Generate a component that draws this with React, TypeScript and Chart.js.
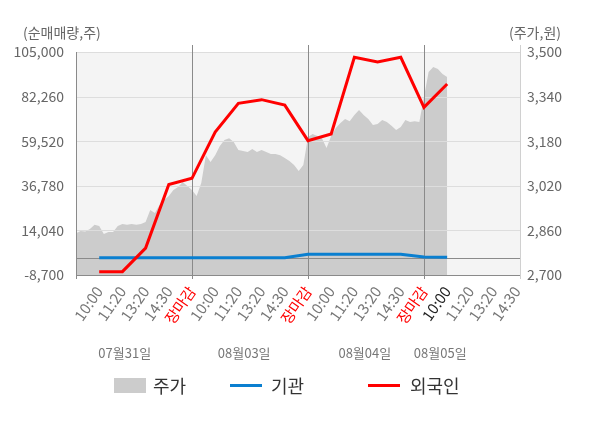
import { useEffect, useRef } from 'react';
import Chart from 'chart.js/auto';

// x-axis tick labels (one per slot, 4 trading days)
const TIME_LABELS = [
  '10:00', '11:20', '13:20', '14:30', '장마감',
  '10:00', '11:20', '13:20', '14:30', '장마감',
  '10:00', '11:20', '13:20', '14:30', '장마감',
  '10:00', '11:20', '13:20', '14:30',
];
const DATE_LABELS = ['07월31일', '08월03일', '08월04일', '08월05일'];

const LEFT_TICKS = [-8700, 14040, 36780, 59520, 82260, 105000];
const RIGHT_TICKS = [2700, 2860, 3020, 3180, 3340, 3500];

// net buying (shares), one value per slot 1..16
const FOREIGN = [
  -7000, -7000, 5000, 37400, 40600,
  64200, 78800, 80700, 77900, 59800,
  63200, 102300, 99900, 102300, 76800,
  88700,
];
const INSTITUTION = [
  100, 100, 100, 100, 100,
  100, 100, 100, 100, 1900,
  1900, 1900, 1900, 1900, 500,
  300,
];

// stock price sampled every PRICE_STEP slots
const PRICE_STEP = 0.2;
const PRICE = [
  2850, 2858, 2856, 2865, 2880, 2876, 2847, 2854, 2854, 2876,
  2883, 2880, 2883, 2880, 2883, 2890, 2933, 2922, 2951, 2969,
  2983, 3005, 3016, 3034, 3019, 3005, 2983, 3030, 3130, 3105,
  3130, 3163, 3184, 3191, 3177, 3148, 3145, 3141, 3152, 3141,
  3148, 3141, 3134, 3134, 3130, 3120, 3109, 3095, 3073, 3095,
  3195, 3206, 3199, 3191, 3156, 3199, 3227, 3245, 3260, 3252,
  3274, 3292, 3274, 3260, 3238, 3242, 3256, 3249, 3235, 3220,
  3231, 3256, 3249, 3252, 3249, 3339, 3428, 3446, 3439, 3421,
  3410,
];

const FONT = '"Noto Sans CJK KR", "Noto Sans", sans-serif';
const DAY_BREAKS = [5, 10, 15];
const DATE_X = [2.1, 7.25, 12.45, 15.7];

const framePlugin = {
  id: 'frame',
  beforeDatasetsDraw(chart: any) {
    const { ctx, chartArea: a } = chart;
    ctx.save();
    ctx.fillStyle = '#f4f4f4';
    ctx.fillRect(a.left, a.top, a.right - a.left, a.bottom - a.top);
    ctx.restore();
  },
  afterDatasetDraw(chart: any, args: any) {
    if (args.index !== 0) return;
    const { ctx, chartArea: a, scales } = chart;
    const ys = scales.y;
    const xs = scales.x;
    const line = (x1: number, y1: number, x2: number, y2: number, c: string) => {
      ctx.strokeStyle = c;
      ctx.beginPath();
      ctx.moveTo(x1, y1);
      ctx.lineTo(x2, y2);
      ctx.stroke();
    };
    ctx.save();
    ctx.lineWidth = 1;
    LEFT_TICKS.slice(1).forEach((v) => {
      const y = Math.round(ys.getPixelForValue(v)) + 0.5;
      line(a.left, y, a.right, y, '#dddddd');
    });
    const z = Math.round(ys.getPixelForValue(0)) + 0.5;
    line(a.left, z, a.right, z, '#8a8a8a');
    DAY_BREAKS.forEach((d) => {
      const x = Math.round(xs.getPixelForValue(d)) + 0.5;
      line(x, a.top - 7, x, a.bottom + 4, '#8a8a8a');
    });
    const l = Math.round(a.left) + 0.5;
    line(l, a.top, l, a.bottom + 4, '#8a8a8a');
    const r = Math.round(a.right) + 0.5;
    line(r, a.top - 7, r, a.bottom + 4, '#d0d0d0');
    const b = Math.round(a.bottom) + 0.5;
    line(a.left, b, a.right, b, '#8a8a8a');
    ctx.restore();
  },
  afterDraw(chart: any) {
    const { ctx, scales } = chart;
    ctx.save();
    ctx.textBaseline = 'middle';
    ctx.fillStyle = '#666';
    ctx.font = `14px ${FONT}`;
    ctx.textAlign = 'left';
    ctx.fillText('(순매매량,주)', 23, 33);
    ctx.fillText('(주가,원)', 509, 33);

    ctx.font = `13px ${FONT}`;
    ctx.fillStyle = '#777';
    ctx.textAlign = 'center';
    DATE_LABELS.forEach((t, i) => {
      ctx.fillText(t, scales.x.getPixelForValue(DATE_X[i]), 353);
    });

    // legend
    ctx.textAlign = 'left';
    ctx.font = `18px ${FONT}`;
    ctx.fillStyle = '#cccccc';
    ctx.fillRect(114, 378, 32, 15);
    ctx.fillStyle = '#0a7fd0';
    ctx.fillRect(230, 384, 32, 3);
    ctx.fillStyle = '#ff0000';
    ctx.fillRect(368, 384, 32, 3);
    ctx.fillStyle = '#333';
    ctx.fillText('주가', 153, 386);
    ctx.fillText('기관', 271, 386);
    ctx.fillText('외국인', 410, 386);
    ctx.restore();
  },
};

export default function App() {
  const canvasRef = useRef<HTMLCanvasElement>(null);
  const chartRef = useRef<Chart | null>(null);

  useEffect(() => {
    if (!canvasRef.current) return;
    if (chartRef.current) chartRef.current.destroy();

    chartRef.current = new Chart(canvasRef.current, {
      type: 'line',
      data: {
        datasets: [
          {
            label: '주가',
            data: PRICE.map((p, k) => ({ x: k * PRICE_STEP, y: p })),
            yAxisID: 'y1',
            fill: 'start',
            backgroundColor: '#cccccc',
            borderWidth: 0,
            pointRadius: 0,
            order: 3,
          },
          {
            label: '기관',
            data: INSTITUTION.map((v, i) => ({ x: i + 1, y: v })),
            yAxisID: 'y',
            borderColor: '#0a7fd0',
            borderWidth: 3,
            pointRadius: 0,
            fill: false,
            order: 2,
          },
          {
            label: '외국인',
            data: FOREIGN.map((v, i) => ({ x: i + 1, y: v })),
            yAxisID: 'y',
            borderColor: '#ff0000',
            borderWidth: 3,
            pointRadius: 0,
            fill: false,
            order: 1,
          },
        ],
      },
      options: {
        responsive: false,
        animation: false,
        layout: { padding: { top: 52, left: 0, right: 0, bottom: 0 } },
        plugins: {
          legend: { display: false },
          tooltip: { enabled: false },
        },
        scales: {
          x: {
            type: 'linear',
            min: 0,
            max: 19.14,
            afterBuildTicks: (s: any) => {
              s.ticks = TIME_LABELS.map((_, i) => ({ value: i + 1 }));
            },
            afterFit: (s: any) => {
              s.height = 153;
            },
            grid: { display: false, drawTicks: false },
            border: { display: false },
            ticks: {
              autoSkip: false,
              minRotation: 55,
              maxRotation: 55,
              padding: 8,
              font: { size: 15, family: FONT },
              color: (c: any) =>
                TIME_LABELS[c.index] === '장마감' ? '#ff0000' : c.index === 15 ? '#222' : '#777',
              callback: (_v: any, i: number) => TIME_LABELS[i],
            },
          },
          y: {
            position: 'left',
            min: -8700,
            max: 105000,
            afterBuildTicks: (s: any) => {
              s.ticks = LEFT_TICKS.map((v) => ({ value: v }));
            },
            afterFit: (s: any) => {
              s.width = 76;
            },
            grid: { display: false, drawTicks: false },
            border: { display: false },
            ticks: {
              padding: 12,
              color: '#666',
              font: { size: 14, family: FONT },
              callback: (v: any) => Number(v).toLocaleString('en-US'),
            },
          },
          y1: {
            position: 'right',
            min: 2700,
            max: 3500,
            afterBuildTicks: (s: any) => {
              s.ticks = RIGHT_TICKS.map((v) => ({ value: v }));
            },
            afterFit: (s: any) => {
              s.width = 80;
            },
            grid: { display: false, drawTicks: false },
            border: { display: false },
            ticks: {
              padding: 7,
              color: '#666',
              font: { size: 14, family: FONT },
              callback: (v: any) => Number(v).toLocaleString('en-US'),
            },
          },
        },
      },
      plugins: [framePlugin],
    });

    return () => {
      if (chartRef.current) {
        chartRef.current.destroy();
        chartRef.current = null;
      }
    };
  }, []);

  return (
    <div style={{ position: 'fixed', left: 0, top: 0, width: 600, height: 428, background: '#fff' }}>
      <canvas ref={canvasRef} width={600} height={428} />
    </div>
  );
}
